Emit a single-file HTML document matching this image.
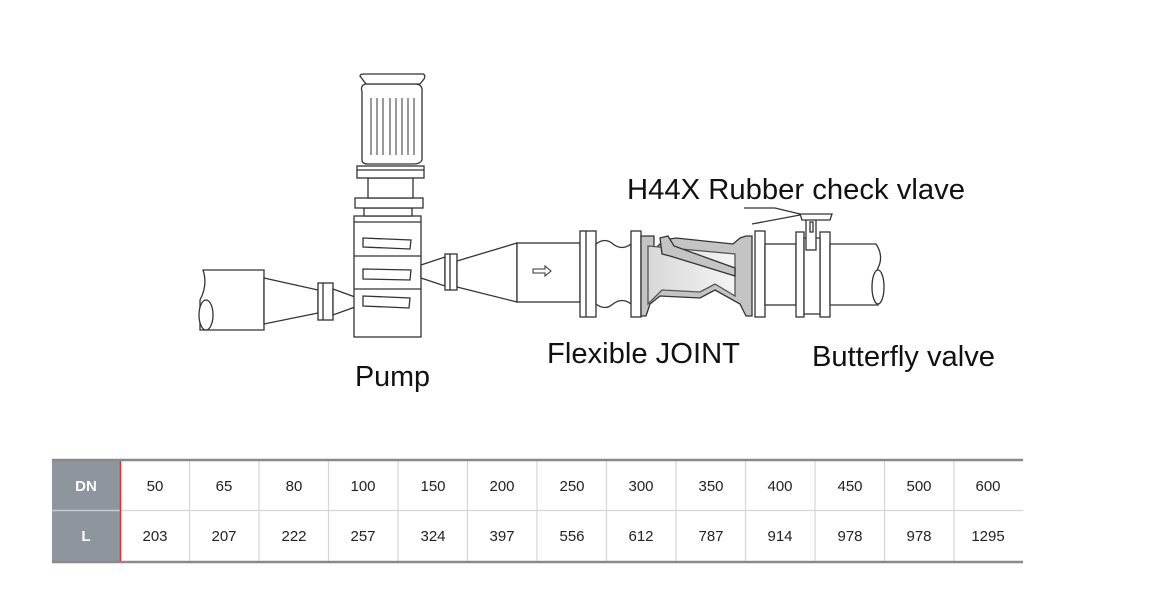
<!DOCTYPE html>
<html><head><meta charset="utf-8"><style>
html,body{margin:0;padding:0;background:#fff;width:1167px;height:595px;overflow:hidden}
svg{display:block}
text{font-family:"Liberation Sans",sans-serif}
</style></head><body>
<svg width="1167" height="595" viewBox="0 0 1167 595" xmlns="http://www.w3.org/2000/svg">
<defs><linearGradient id="g" x1="0" x2="1"><stop offset="0" stop-color="#d8d8d8"/><stop offset="1" stop-color="#f4f4f4"/></linearGradient></defs>
<g fill="#fff" stroke="#333" stroke-width="1.3">
<path d="M264 270 L203 270 Q208 285 200 300 L200 330 L264 330 Z"/>
<ellipse cx="206" cy="315" rx="7" ry="15"/>
<path d="M264 278 L318 290 L318 313 L264 324 Z"/>
<rect x="318" y="283" width="15" height="37"/>
<line x1="323" y1="283" x2="323" y2="320"/>
<path d="M333 289 L355 297 L355 307 L333 315 Z"/>
<rect x="354" y="216" width="67" height="121"/>
<line x1="354" y1="222" x2="421" y2="222"/>
<line x1="354" y1="256" x2="421" y2="256"/>
<line x1="354" y1="289" x2="421" y2="289"/>
<path d="M363 238 L411 240 L410 249 L363 247 Z"/>
<path d="M363 269 L411 270 L410 280 L363 279 Z"/>
<path d="M363 296 L410 298 L409 308 L363 306 Z"/>
<rect x="364" y="208" width="48" height="8"/>
<rect x="355" y="198" width="68" height="10"/>
<rect x="368" y="178" width="45" height="20"/>
<rect x="357" y="166" width="67" height="12"/>
<line x1="357" y1="170" x2="424" y2="170"/>
<path d="M362 92 Q360 85 366 84 L416 84 Q423 85 422 92 L422 160 Q420 164 414 164 L368 164 Q362 164 362 160 Z"/>
<path d="M360 76 Q360 74 364 74 L423 74 Q426 75 424 79 L420 84 L366 84 Z"/>
<g stroke-width="1"><line x1="371" y1="98" x2="371" y2="155"/><line x1="377" y1="98" x2="377" y2="155"/><line x1="383" y1="98" x2="383" y2="155"/><line x1="390" y1="98" x2="390" y2="155"/><line x1="396" y1="98" x2="396" y2="155"/><line x1="402" y1="98" x2="402" y2="155"/><line x1="408" y1="98" x2="408" y2="155"/><line x1="414" y1="98" x2="414" y2="155"/></g>
<path d="M421 265 L445 257 L445 286 L421 278 Z"/>
<rect x="445" y="254" width="12" height="36"/>
<line x1="450" y1="254" x2="450" y2="290"/>
<path d="M457 261 L517 243 L517 302 L457 287 Z"/>
<rect x="517" y="243" width="63" height="59"/>
<path d="M533 269 L545 269 L545 266 L551 271 L545 276 L545 273 L533 273 Z" stroke-width="1"/>
<rect x="580" y="231" width="16" height="86"/>
<line x1="586" y1="231" x2="586" y2="317"/>
<path d="M596 244 Q605 237 613 244 Q622 251 631 244 L631 304 Q622 297 613 304 Q605 311 596 304 Z"/>
<rect x="631" y="231" width="10" height="86"/>
<path d="M641 236 L654 236 L654 250 L664 240 L676 238 L733 244 L740 238 L746 236 L752 236 L752 316 L746 316 L740 304 L715 290 L700 298 L660 296 L650 304 L646 316 L641 316 Z" fill="#c4c4c4"/>
<path d="M648 246 L735 254 L735 296 L715 284 L700 292 L662 290 L648 304 Z" fill="url(#g)" stroke="#555"/>
<path d="M660 238 L668 236 L674 246 L735 268 L735 276 L670 256 L662 254 Z" fill="#c4c4c4"/>
<rect x="755" y="231" width="10" height="86"/>
<rect x="765" y="244" width="31" height="61"/>
<rect x="796" y="232" width="8" height="85"/>
<rect x="820" y="232" width="10" height="85"/>
<rect x="804" y="238" width="16" height="76"/>
<rect x="806" y="218" width="10" height="32"/>
<rect x="810" y="222" width="3" height="10"/>
<path d="M800 214 L832 214 L830 220 L802 220 Z"/>
<path d="M744 208 L775 208 L800 214" fill="none"/>
<line x1="752" y1="224" x2="800" y2="215"/>
<path d="M830 244 L876 244 Q884 256 878 268 Q872 280 878 305 L830 305 Z"/>
<ellipse cx="878" cy="287" rx="6" ry="17"/>
</g>
<g fill="#111" font-size="29">
<text x="627" y="199" textLength="338" lengthAdjust="spacingAndGlyphs">H44X Rubber check vlave</text>
<text x="547" y="363" textLength="193" lengthAdjust="spacingAndGlyphs">Flexible JOINT</text>
<text x="812" y="366" textLength="183" lengthAdjust="spacingAndGlyphs">Butterfly valve</text>
<text x="355" y="386" textLength="75" lengthAdjust="spacingAndGlyphs">Pump</text>
</g>
<rect x="52" y="460" width="68" height="102" fill="#8e959d"/>
<line x1="52" y1="510.5" x2="120" y2="510.5" stroke="#c8ccd0" stroke-width="1.5"/>
<g stroke="#d6d6d6" stroke-width="1.2">
<line x1="120" y1="510.5" x2="1023" y2="510.5"/>
<line x1="189.5" y1="460" x2="189.5" y2="562"/><line x1="259" y1="460" x2="259" y2="562"/><line x1="328.5" y1="460" x2="328.5" y2="562"/><line x1="398" y1="460" x2="398" y2="562"/><line x1="467.5" y1="460" x2="467.5" y2="562"/><line x1="537" y1="460" x2="537" y2="562"/><line x1="606.5" y1="460" x2="606.5" y2="562"/><line x1="676" y1="460" x2="676" y2="562"/><line x1="745.5" y1="460" x2="745.5" y2="562"/><line x1="815" y1="460" x2="815" y2="562"/><line x1="884.5" y1="460" x2="884.5" y2="562"/><line x1="954" y1="460" x2="954" y2="562"/>
</g>
<line x1="52" y1="460" x2="1023" y2="460" stroke="#8a8a8a" stroke-width="2.5"/>
<line x1="52" y1="562" x2="1023" y2="562" stroke="#8a8a8a" stroke-width="2.5"/>
<line x1="120.5" y1="461" x2="120.5" y2="561" stroke="#e0303a" stroke-width="1.5"/>
<g font-size="15" fill="#fff" font-weight="bold" text-anchor="middle"><text x="86" y="491">DN</text><text x="86" y="541">L</text></g>
<g font-size="15" fill="#222" text-anchor="middle">
<text x="155" y="491">50</text><text x="224" y="491">65</text><text x="294" y="491">80</text><text x="363" y="491">100</text><text x="433" y="491">150</text><text x="502" y="491">200</text><text x="572" y="491">250</text><text x="641" y="491">300</text><text x="711" y="491">350</text><text x="780" y="491">400</text><text x="850" y="491">450</text><text x="919" y="491">500</text><text x="988" y="491">600</text>
<text x="155" y="541">203</text><text x="224" y="541">207</text><text x="294" y="541">222</text><text x="363" y="541">257</text><text x="433" y="541">324</text><text x="502" y="541">397</text><text x="572" y="541">556</text><text x="641" y="541">612</text><text x="711" y="541">787</text><text x="780" y="541">914</text><text x="850" y="541">978</text><text x="919" y="541">978</text><text x="988" y="541">1295</text>
</g>
</svg>
</body></html>
